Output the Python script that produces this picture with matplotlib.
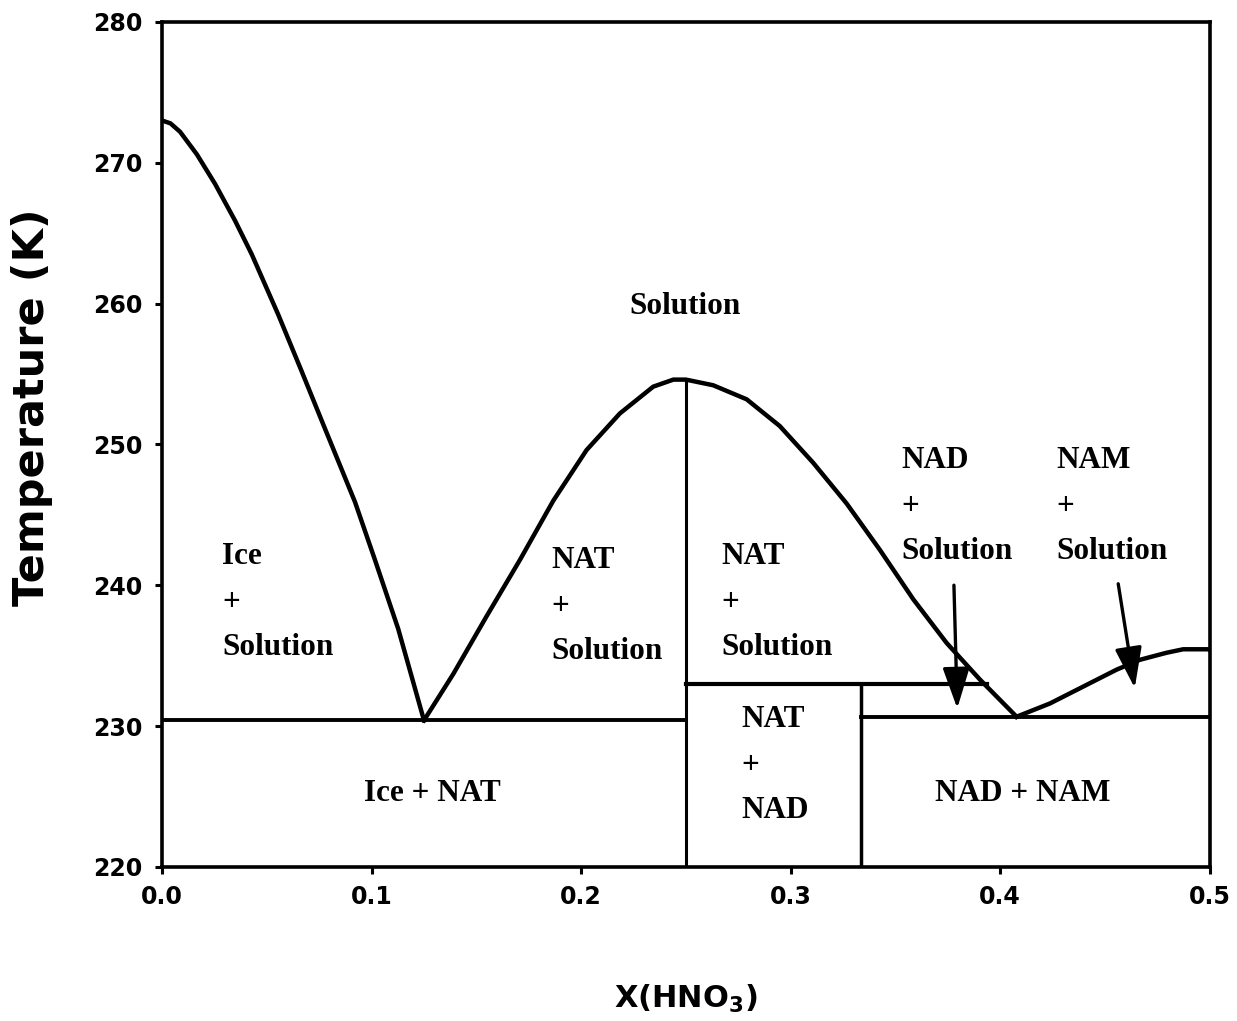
import matplotlib
matplotlib.use('Agg')
import matplotlib.pyplot as plt
import numpy as np

# liquidus curves (X(HNO3), T in K)
ice_x = [0.0, 0.0040, 0.0086, 0.0166, 0.0253, 0.0348, 0.0428, 0.0555, 0.0666,
         0.0778, 0.0921, 0.1016, 0.1127, 0.1250]
ice_t = [273.0, 272.8, 272.2, 270.6, 268.5, 265.9, 263.5, 259.2, 255.2,
         251.1, 245.9, 241.8, 236.9, 230.4]

nat_x = [0.1250, 0.1390, 0.1549, 0.1708, 0.1867, 0.2026, 0.2185, 0.2344, 0.2440, 0.2500,
         0.2630, 0.2790, 0.2948, 0.3107, 0.3267, 0.3426, 0.3585, 0.3744, 0.3903, 0.4078]
nat_t = [230.4, 233.7, 237.8, 241.8, 246.0, 249.6, 252.2, 254.1, 254.6, 254.6,
         254.2, 253.2, 251.3, 248.7, 245.8, 242.5, 239.0, 235.9, 233.3, 230.66]

nam_x = [0.4078, 0.4237, 0.4396, 0.4555, 0.4666, 0.4793, 0.4873, 0.4992, 0.5000]
nam_t = [230.66, 231.6, 232.8, 234.0, 234.7, 235.2, 235.45, 235.45, 235.4]

# solidus lines and phase boundaries
ice_nat_t = 230.4
nat_nad_t = 233.0
nad_nam_t = 230.66
x_nat = 0.25
x_nad = 1.0 / 3.0
x_nat_nad_end = 0.3935
t_nat_top = 254.6

fig = plt.figure(figsize=(12.37, 10.21), dpi=100)
ax = fig.add_axes([0.131, 0.151, 0.847, 0.8275])

lw = 3.2
ax.plot(ice_x, ice_t, color='black', lw=lw, solid_joinstyle='round')
ax.plot(nat_x, nat_t, color='black', lw=lw, solid_joinstyle='round')
ax.plot(nam_x, nam_t, color='black', lw=lw, solid_joinstyle='round')

ax.plot([0, x_nat], [ice_nat_t, ice_nat_t], color='black', lw=2.8)
ax.plot([x_nat, x_nat], [220, t_nat_top], color='black', lw=2.2)
ax.plot([x_nat, x_nat_nad_end], [nat_nad_t, nat_nad_t], color='black', lw=3.0)
ax.plot([x_nad, x_nad], [220, nat_nad_t], color='black', lw=2.5)
ax.plot([x_nad, 0.5], [nad_nam_t, nad_nam_t], color='black', lw=2.8)

ax.set_xlim(0, 0.5)
ax.set_ylim(220, 280)
ax.set_xticks(np.arange(0, 0.51, 0.1))
ax.set_xticklabels(['0.0', '0.1', '0.2', '0.3', '0.4', '0.5'])
ax.set_yticks(np.arange(220, 281, 10))

for lab in ax.get_xticklabels() + ax.get_yticklabels():
    lab.set_family('DejaVu Sans')
    lab.set_weight('bold')
    lab.set_size(17)
ax.tick_params(direction='out', length=5, width=2.2)
ax.tick_params(axis='y', pad=9)
ax.tick_params(axis='x', pad=8)
for s in ax.spines.values():
    s.set_linewidth(2.6)

ax.set_xlabel('X(HNO$_{\\mathbf{3}}$)', family='DejaVu Sans', weight='bold', size=22, labelpad=53)
ax.set_ylabel('Temperature (K)', family='DejaVu Sans', weight='bold', size=31)
ax.yaxis.set_label_coords(-0.104, 0.544)

lab_font = dict(family='Liberation Serif', weight='bold', size=22.5)
ax.text(0.2495, 259.8, 'Solution', ha='center', va='center', **lab_font)
ax.text(0.0286, 238.8, 'Ice\n+\nSolution', ha='left', va='center', linespacing=1.75, **lab_font)
ax.text(0.186, 238.5, 'NAT\n+\nSolution', ha='left', va='center', linespacing=1.75, **lab_font)
ax.text(0.267, 238.8, 'NAT\n+\nSolution', ha='left', va='center', linespacing=1.75, **lab_font)
ax.text(0.3526, 245.6, 'NAD\n+\nSolution', ha='left', va='center', linespacing=1.75, **lab_font)
ax.text(0.427, 245.6, 'NAM\n+\nSolution', ha='left', va='center', linespacing=1.75, **lab_font)
ax.text(0.1288, 225.2, 'Ice + NAT', ha='center', va='center', **lab_font)
ax.text(0.2767, 227.2, 'NAT\n+\nNAD', ha='left', va='center', linespacing=1.75, **lab_font)
ax.text(0.4108, 225.2, 'NAD + NAM', ha='center', va='center', **lab_font)

arrow = dict(arrowstyle='-|>,head_length=2.5,head_width=0.83', color='black', lw=2.4,
             shrinkA=0, shrinkB=0)
ax.annotate('', xy=(0.3795, 231.25), xytext=(0.3779, 240.0), arrowprops=arrow)
ax.annotate('', xy=(0.4642, 232.7), xytext=(0.4563, 240.1), arrowprops=arrow)

fig.savefig('out.png', dpi=100)
